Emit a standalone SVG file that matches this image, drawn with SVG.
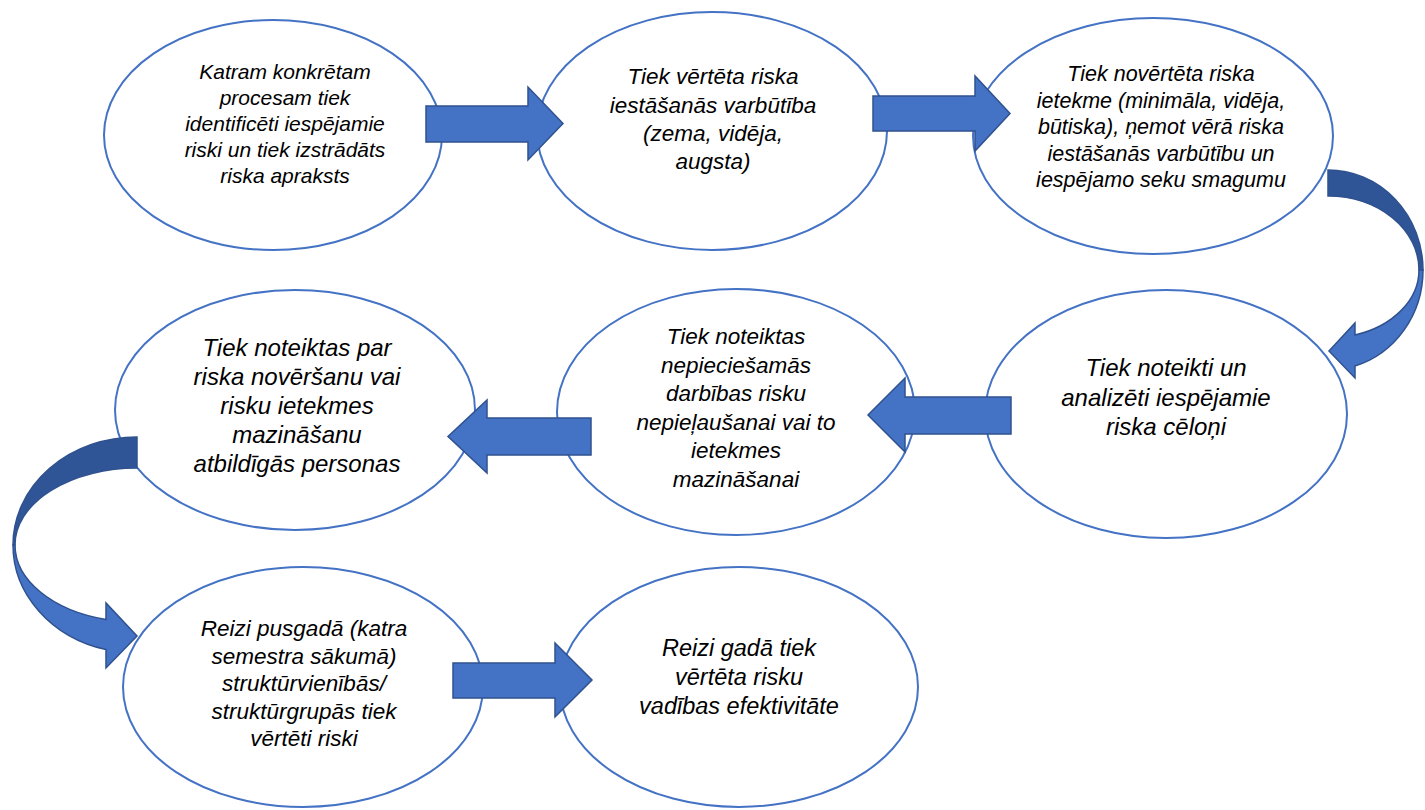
<svg xmlns="http://www.w3.org/2000/svg" width="1425" height="810" viewBox="0 0 1425 810">
<style>
.node ellipse{fill:#fff;stroke:#4472C4;stroke-width:2}
.node text{font-family:"Liberation Sans",Arial,sans-serif;font-style:italic;fill:#000;text-anchor:middle}
.blk{fill:#4472C4;stroke:#2F528F;stroke-width:1.5;stroke-linejoin:miter}
.dark{fill:#2F5597;stroke:#2F528F;stroke-width:1.5}
.light{fill:#4472C4;stroke:#2F528F;stroke-width:1.5}
</style>
<rect width="1425" height="810" fill="#fff"/>
<g id="n1" class="node">
<ellipse cx="273" cy="135" rx="169" ry="115"/>
<text font-size="21"><tspan x="285" y="79">Katram konkrētam</tspan><tspan x="285" y="105">procesam tiek</tspan><tspan x="285" y="131">identificēti iespējamie</tspan><tspan x="285" y="157">riski un tiek izstrādāts</tspan><tspan x="285" y="183">riska apraksts</tspan></text>
</g>
<g id="n2" class="node">
<ellipse cx="712" cy="131" rx="175" ry="119"/>
<text font-size="22.5"><tspan x="713" y="84">Tiek vērtēta riska</tspan><tspan x="713" y="112.5">iestāšanās varbūtība</tspan><tspan x="713" y="141">(zema, vidēja,</tspan><tspan x="713" y="169">augsta)</tspan></text>
</g>
<g id="n3" class="node">
<ellipse cx="1153" cy="136" rx="180" ry="118"/>
<text font-size="21.5"><tspan x="1161" y="81">Tiek novērtēta riska</tspan><tspan x="1161" y="107.5">ietekme (minimāla, vidēja,</tspan><tspan x="1161" y="134">būtiska), ņemot vērā riska</tspan><tspan x="1161" y="160.5">iestāšanās varbūtību un</tspan><tspan x="1161" y="187">iespējamo seku smagumu</tspan></text>
</g>
<g id="n4" class="node">
<ellipse cx="1166" cy="414" rx="181" ry="124"/>
<text font-size="24"><tspan x="1166" y="376">Tiek noteikti un</tspan><tspan x="1166" y="405.5">analizēti iespējamie</tspan><tspan x="1166" y="435">riska cēloņi</tspan></text>
</g>
<g id="n5" class="node">
<ellipse cx="736" cy="412" rx="179" ry="123"/>
<text font-size="22.5"><tspan x="736" y="344">Tiek noteiktas</tspan><tspan x="736" y="372.5">nepieciešamās</tspan><tspan x="736" y="401">darbības risku</tspan><tspan x="736" y="429.5">nepieļaušanai vai to</tspan><tspan x="736" y="458">ietekmes</tspan><tspan x="736" y="486.5">mazināšanai</tspan></text>
</g>
<g id="n6" class="node">
<ellipse cx="295" cy="410" rx="180" ry="120"/>
<text font-size="24"><tspan x="297" y="356">Tiek noteiktas par</tspan><tspan x="297" y="385">riska novēršanu vai</tspan><tspan x="297" y="414">risku ietekmes</tspan><tspan x="297" y="443">mazināšanu</tspan><tspan x="297" y="472">atbildīgās personas</tspan></text>
</g>
<g id="n7" class="node">
<ellipse cx="303" cy="687" rx="180" ry="120"/>
<text font-size="22.5"><tspan x="304" y="636">Reizi pusgadā (katra</tspan><tspan x="304" y="663.5">semestra sākumā)</tspan><tspan x="304" y="691">struktūrvienībās/</tspan><tspan x="304" y="718.5">struktūrgrupās tiek</tspan><tspan x="304" y="746">vērtēti riski</tspan></text>
</g>
<g id="n8" class="node">
<ellipse cx="739" cy="687" rx="179" ry="120"/>
<text font-size="23.5"><tspan x="739" y="656">Reizi gadā tiek</tspan><tspan x="739" y="685">vērtēta risku</tspan><tspan x="739" y="714">vadības efektivitāte</tspan></text>
</g>
<g id="connectors">
<polygon class="blk" points="426,106 528,106 528,87 563,123.5 528,160 528,142 426,142"/>
<polygon class="blk" points="873,96 975,96 975,76 1010,113.5 975,151 975,131 873,131"/>
<polygon class="blk" points="1011,397 905,397 905,378 868,415 905,452 905,434 1011,434"/>
<polygon class="blk" points="591,418 487,418 487,400 448,436.5 487,473 487,455 591,455"/>
<polygon class="blk" points="453,663 555,663 555,643 592,680 555,717 555,698 453,698"/>
<path class="dark" d="M1328,170 A95,100 0 0 1 1423,270 L1419,270 A91,74 0 0 0 1328,196 Z"/>
<path class="light" d="M1423,270 A95,100 0 0 1 1355,366 L1355,378 L1329,351 L1355,323 L1355,335 A91,68 0 0 0 1419,270 Z"/>
<path class="dark" d="M137,437 A124,108 0 0 0 13,545 L15,545 A122,77 0 0 1 137,468 Z"/>
<path class="light" d="M13,545 A124,108 0 0 0 106,649.6 L106,668 L137,636 L106,603 L106,619.5 A122,77 0 0 1 15,545 Z"/>
</g>
</svg>
